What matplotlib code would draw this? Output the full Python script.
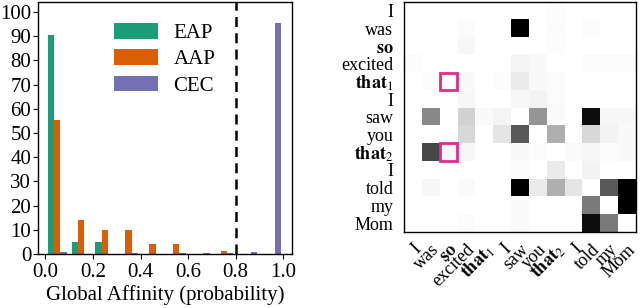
import numpy as np
import matplotlib
matplotlib.use("Agg")
import matplotlib.pyplot as plt
from matplotlib.patches import Rectangle

plt.rcParams['font.family'] = ['Liberation Serif', 'DejaVu Serif']
plt.rcParams['mathtext.fontset'] = 'stix'

# ---------------- data ----------------
bin_edges = [0.0, 0.1, 0.2, 0.3, 0.4, 0.5, 0.6, 0.7, 0.8, 0.9, 1.0]
series_names = ["EAP", "AAP", "CEC"]
eap = [90.5, 4.8, 4.8, 0, 0, 0, 0, 0, 0, 0]
aap = [55.5, 14.2, 10.0, 10.0, 4.2, 4.2, 0, 1.3, 0, 0]
cec = [1.0, 0, 0, 0.4, 0, 0.4, 0.4, 0.4, 1.0, 95.5]
threshold = 0.8
xticks = [0.0, 0.2, 0.4, 0.6, 0.8, 1.0]
yticks = [0, 10, 20, 30, 40, 50, 60, 70, 80, 90, 100]

tokens = ["I", "was", r"$\mathbf{so}$", "excited", r"$\mathbf{that}_1$", "I", "saw",
          "you", r"$\mathbf{that}_2$", "I", "told", "my", "Mom"]
affinity = [
    [0.01, 0, 0, 0, 0, 0, 0, 0, 0.02, 0, 0, 0, 0],
    [0, 0, 0, 0.03, 0, 0, 1.0, 0, 0.03, 0, 0.03, 0, 0],
    [0, 0, 0, 0.06, 0, 0, 0, 0, 0.02, 0, 0, 0, 0],
    [0.02, 0, 0, 0, 0, 0, 0.08, 0.05, 0, 0, 0.03, 0.03, 0.03],
    [0, 0.02, 0, 0.05, 0, 0.02, 0.15, 0.05, 0.03, 0, 0, 0, 0],
    [0, 0, 0, 0.06, 0, 0, 0.06, 0.10, 0.03, 0, 0, 0, 0],
    [0, 0.55, 0, 0.28, 0.05, 0.08, 0, 0.50, 0.04, 0, 0.95, 0.06, 0.06],
    [0, 0, 0, 0.25, 0, 0.18, 0.72, 0, 0.42, 0, 0.25, 0.10, 0.05],
    [0, 0.78, 0.07, 0.07, 0, 0, 0.05, 0.02, 0, 0.04, 0.06, 0.03, 0.05],
    [0, 0, 0, 0, 0, 0, 0.03, 0, 0.15, 0, 0.10, 0, 0],
    [0, 0.06, 0, 0.04, 0, 0, 1.0, 0.15, 0.42, 0.18, 0, 0.72, 1.0],
    [0, 0, 0, 0, 0, 0, 0.04, 0, 0, 0, 0.60, 0, 1.0],
    [0, 0, 0, 0.02, 0, 0, 0.04, 0, 0, 0, 0.95, 0.60, 0],
]
highlight_cells = [(4, 2), (8, 2)]

colors = ["#1b9e77", "#d95f02", "#7570b3"]
highlight_color = "#e7298a"

# ---------------- figure ----------------
fig = plt.figure(figsize=(6.4, 3.08), dpi=100)

ax1 = fig.add_axes([0.059, 0.175, 0.397, 0.818])
edges = np.array(bin_edges)
bw = np.diff(edges)
nser = 3
w = bw * 0.8 / nser
for i, (vals, name, c) in enumerate(zip([eap, aap, cec], series_names, colors)):
    x = edges[:-1] + bw * 0.1 + i * w
    ax1.bar(x, vals, width=w, align='edge', color=c, label=name, linewidth=0)
ax1.axvline(threshold, color='black', linestyle=(0, (4, 2.5)), linewidth=1.8)
ax1.set_xlim(-0.032, 1.036)
ax1.set_ylim(0, 104)
ax1.set_xticks(xticks)
ax1.set_xticklabels([f"{t:.1f}" for t in xticks])
ax1.set_yticks(yticks)
ax1.tick_params(labelsize=15, length=3.5)
ax1.tick_params(axis='y', pad=1.2)
ax1.tick_params(axis='x', pad=3)
ax1.set_xlabel("Global Affinity (probability)", fontsize=15, labelpad=2)
ax1.legend(loc='upper center', bbox_to_anchor=(0.5, 1.0), frameon=False, fontsize=15,
           handlelength=2.1, handleheight=0.77, labelspacing=0.3, handletextpad=0.75,
           borderaxespad=0.6)

ax2 = fig.add_axes([0.631, 0.247, 0.3625, 0.747])
ax2.imshow(np.array(affinity), cmap='Greys', vmin=0, vmax=1, aspect='auto',
           interpolation='nearest')
n = len(tokens)
ax2.set_xticks(range(n))
ax2.set_yticks(range(n))
ax2.set_xticklabels(tokens, rotation=45, ha='right', rotation_mode='anchor', fontsize=13)
ax2.set_yticklabels(tokens, fontsize=13)
ax2.tick_params(axis='y', length=0, pad=7.5)
ax2.tick_params(axis='x', length=0, pad=6.5)
for r, c in highlight_cells:
    ax2.add_patch(Rectangle((c - 0.5, r - 0.5), 1, 1, fill=False,
                            edgecolor=highlight_color, linewidth=2))
for sp in list(ax1.spines.values()) + list(ax2.spines.values()):
    sp.set_linewidth(1.0)

fig.savefig("out.png", dpi=100)
